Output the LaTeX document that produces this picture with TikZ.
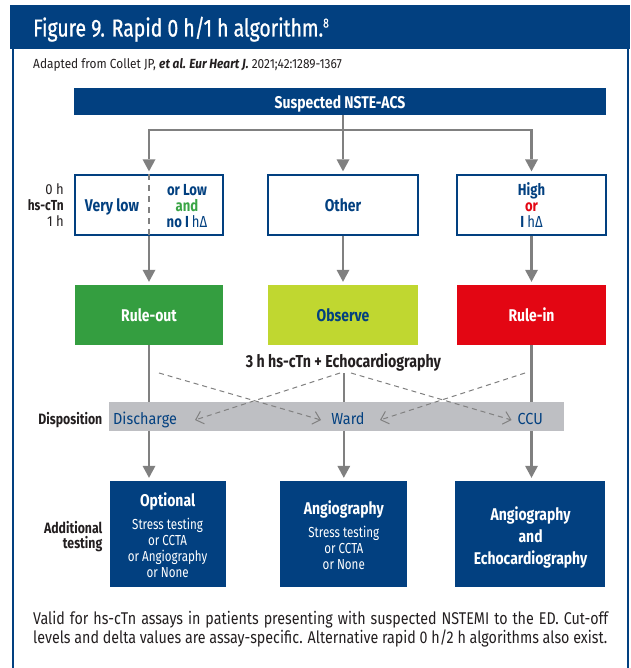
\documentclass[tikz,border=0pt]{standalone}
\usepackage{fontspec}
\setmainfont{Fira Sans}[FakeStretch=0.9]
\newfontfamily\bfont{Fira Sans}[FakeStretch=0.82]
\newfontfamily\nfont{Fira Sans}[FakeStretch=0.8]
\newfontfamily\ffont{Fira Sans}[FakeStretch=0.84]
\newfontfamily\titlefont{Fira Sans}[FakeStretch=0.79, FakeBold=0.8]
\usetikzlibrary{arrows.meta}
\definecolor{navy}{RGB}{2,64,128}
\definecolor{garr}{RGB}{128,128,128}
\definecolor{bandc}{RGB}{190,191,195}
\definecolor{ogreen}{RGB}{52,158,64}
\definecolor{lime}{RGB}{192,215,48}
\definecolor{ored}{RGB}{227,6,19}
\definecolor{tgreen}{RGB}{58,165,70}
\definecolor{ink}{RGB}{35,31,32}
\tikzset{
  wbox/.style={draw=navy, line width=1.3pt, fill=white, minimum height=60pt, inner sep=0pt},
  cbox/.style={minimum height=60pt, inner sep=0pt},
  bbox/.style={fill=navy, minimum height=106pt, inner sep=0pt},
  txt/.style={inner sep=0pt, anchor=base},
  boxlbl/.style={txt, text=navy, font=\bfont\fontsize{17}{18}\selectfont\bfseries},
  stacklbl/.style={txt, text=navy, font=\bfont\fontsize{16}{18}\selectfont\bfseries},
  sidelbl/.style={inner sep=0pt, anchor=base east, text=ink},
  wtitle/.style={txt, text=white, font=\bfont\fontsize{17}{18}\selectfont\bfseries},
  wsmall/.style={txt, text=white, font=\nfont\fontsize{14.5}{16}\selectfont},
  bandlbl/.style={txt, text=navy, font=\fontsize{16}{18}\selectfont},
  footlbl/.style={inner sep=0pt, anchor=base west, text=ink, font=\ffont\fontsize{17}{19}\selectfont},
  gline/.style={draw=garr, line width=2.6pt},
  garrow/.style={gline, -{Triangle[width=13pt,length=12pt,line width=0pt]}, shorten >=3pt},
  dsh/.style={draw=garr, line width=1pt, dash pattern=on 5pt off 4pt, -{Straight Barb[length=7pt,width=13pt]}},
}
\begin{document}
\begin{tikzpicture}[x=1pt,y=-1pt]
\useasboundingbox (0,0) rectangle (630,668);
% header and frame
\fill[navy] (10,5) rectangle (630,49);
\draw[navy, line width=2pt] (12.5,49) -- (12.5,668);
\draw[navy, line width=1.5pt] (628,49) -- (628,668);
\node[inner sep=0pt, anchor=base west, text=white, font=\titlefont\fontsize{24.5}{28}\selectfont] (title) at (33,36.5)
  {Figure 9. Rapid 0 h/1 h algorithm.\raisebox{9pt}{\fontsize{13}{13}\selectfont 8}};
\node[inner sep=0pt, anchor=base west, text=ink, font=\fontsize{13.2}{15}\selectfont] (src) at (33,69)
  {Adapted from Collet JP, \textbf{\textit{et al. Eur Heart J.}} 2021;42:1289-1367};

% top box
\node[fill=navy, minimum width=532pt, minimum height=27pt, inner sep=0pt] (nste) at (340,101.5) {};
\node[wtitle] (nstet) at (340,108.3) {Suspected NSTE-ACS};

% hs-cTn boxes
\node[wbox, minimum width=148pt] (vlow) at (149,205) {};
\node[wbox, minimum width=150pt] (other) at (343,205) {};
\node[wbox, minimum width=149pt] (high) at (531.5,205) {};

\node[boxlbl] (vlowt) at (112,211.7) {Very low};
\node[stacklbl] (lowa) at (187,196) {or Low};
\node[stacklbl, text=tgreen] (lowb) at (187,211.7) {and};
\node[stacklbl] (lowc) at (187,227.5) {no I \mdseries h\symbol{"0394}};
\node[boxlbl] (othert) at (343,211.7) {Other};
\node[stacklbl] (higha) at (531.5,196) {High};
\node[stacklbl, text=ored] (highb) at (531.5,211.7) {or};
\node[stacklbl] (highc) at (531.5,227.5) {I \mdseries h\symbol{"0394}};

\node[sidelbl, font=\fontsize{14.5}{16}\selectfont] (h0) at (64,195) {0 h};
\node[sidelbl, font=\bfont\fontsize{14.5}{16}\selectfont\bfseries] (hs) at (64,211) {hs-cTn};
\node[sidelbl, font=\fontsize{14.5}{16}\selectfont] (h1) at (64,226.7) {1 h};

% coloured boxes
\node[cbox, fill=ogreen, minimum width=148pt] (ruleout) at (149,315) {};
\node[cbox, fill=lime, minimum width=150pt] (observe) at (343,315) {};
\node[cbox, fill=ored, minimum width=149pt] (rulein) at (531.5,315) {};
\node[wtitle] (ruleoutt) at (149,321) {Rule-out};
\node[boxlbl] (observet) at (343,321) {Observe};
\node[wtitle] (ruleint) at (531.5,321) {Rule-in};

\node[txt, text=ink, font=\bfont\fontsize{17.3}{19}\selectfont\bfseries] (echo) at (343.5,367.7) {3 h hs-cTn + Echocardiography};

% disposition band
\node[fill=bandc, minimum width=454.5pt, minimum height=29pt, inner sep=0pt] (band) at (336.5,416.2) {};
\node[sidelbl, font=\bfont\fontsize{15}{17}\selectfont\bfseries] (disp) at (102.5,424) {Disposition};
\node[bandlbl, anchor=base west] (dis) at (113,424) {Discharge};
\node[bandlbl] (ward) at (348,424) {Ward};
\node[bandlbl] (ccu) at (530.3,424) {CCU};

% additional testing
\node[bbox, minimum width=116pt] (opt) at (168,534) {};
\node[bbox, minimum width=127pt] (angio) at (343.3,534) {};
\node[bbox, minimum width=150pt] (angecho) at (530.3,534) {};

\node[sidelbl, font=\bfont\fontsize{15}{17}\selectfont\bfseries] (add1) at (102.5,533) {Additional};
\node[sidelbl, font=\bfont\fontsize{15}{17}\selectfont\bfseries] (add2) at (102.5,548) {testing};

\node[wtitle] (opt1) at (167.6,506) {Optional};
\node[wsmall] (opt2) at (167.6,529) {Stress testing};
\node[wsmall] (opt3) at (167.6,545) {or CCTA};
\node[wsmall] (opt4) at (167.6,561) {or Angiography};
\node[wsmall] (opt5) at (167.6,577) {or None};

\node[wtitle] (ang1) at (343.8,514) {Angiography};
\node[wsmall] (ang2) at (343.8,537) {Stress testing};
\node[wsmall] (ang3) at (343.8,553) {or CCTA};
\node[wsmall] (ang4) at (343.8,569) {or None};

\node[wtitle] (ae1) at (530.6,520) {Angiography};
\node[wtitle] (ae2) at (530.6,542) {and};
\node[wtitle] (ae3) at (530.6,564) {Echocardiography};

% footer
\node[footlbl] (foot1) at (33,624)
  {\makebox[575pt][s]{Valid for hs-cTn assays in patients presenting with suspected NSTEMI to the ED. Cut-off}};
\node[footlbl] (foot2) at (33,643)
  {\makebox[574pt][s]{levels and delta values are assay-specific. Alternative rapid 0 h/2 h algorithms also exist.}};

% connectors
\coordinate (split) at (343,130);
\draw[gline] (nste.south -| split) -- (split);
\draw[garrow] (split) -| (vlow.north);
\draw[garrow] (split) -- (other.north);
\draw[garrow] (split) -| (high.north);
\draw[draw=garr, line width=2pt, dash pattern=on 6pt off 5pt] (vlow.north) -- (vlow.south);

\draw[garrow] (vlow.south) -- (ruleout.north);
\draw[garrow] (other.south) -- (observe.north);
\draw[garrow] (high.south) -- (rulein.north);

\draw[gline] (ruleout.south) -- (band.north -| ruleout.south);
\draw[gline] (rulein.south) -- (band.north -| rulein.south);
\coordinate (echob) at (343.8,373);
\draw[gline] (echob) -- (band.north -| echob);

\coordinate (d1s) at (159,373);   \coordinate (d1e) at (321,420);
\coordinate (d2s) at (351,373);   \coordinate (d2e) at (511.5,420);
\coordinate (d3s) at (340,373);   \coordinate (d3e) at (195,420);
\coordinate (d4s) at (525,373);   \coordinate (d4e) at (380,420);
\draw[dsh] (d1s) -- (d1e);
\draw[dsh] (d2s) -- (d2e);
\draw[dsh] (d3s) -- (d3e);
\draw[dsh] (d4s) -- (d4e);

\draw[garrow] (band.south -| ruleout.south) -- (opt.north -| ruleout.south);
\draw[garrow] (band.south -| echob) -- (angio.north -| echob);
\draw[garrow] (band.south -| rulein.south) -- (angecho.north -| rulein.south);
\end{tikzpicture}
\end{document}
